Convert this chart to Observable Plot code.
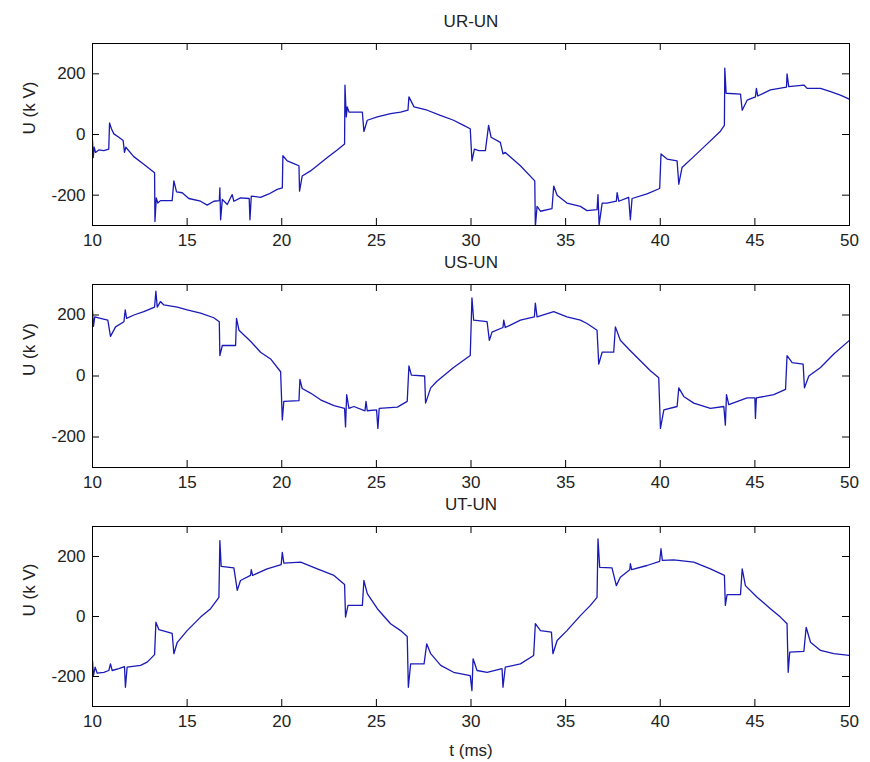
<!DOCTYPE html>
<html><head><meta charset="utf-8">
<script src="https://cdn.jsdelivr.net/npm/d3@7"></script>
<script src="https://cdn.jsdelivr.net/npm/@observablehq/plot@0.6"></script>
<style>
body{margin:0;background:#fff;}
#chart{position:relative;width:870px;height:762px;overflow:hidden;background:#fff;}
#chart svg{position:absolute;left:0;}
</style></head><body><div id="chart"></div>
<script>
const xTicks = [10,15,20,25,30,35,40,45,50];
const yTicks = [-200,0,200];
const titles = ["UR-UN","US-UN","UT-UN"];
const yLabel = "U (k V)";
const xLabel = "t (ms)";

// [t (ms), U (kV)]
const UR_UN = [
[10.00,-20],[10.04,-76],[10.09,-42],[10.16,-59],[10.33,-51],[10.60,-53],[10.86,-48],[10.90,38],[11.00,19],[11.13,2],
[11.39,-9],[11.62,-20],[11.69,-59],[11.76,-42],[12.18,-73],[12.71,-98],[13.28,-126],[13.30,-287],[13.37,-209],[13.45,-226],
[13.59,-218],[14.21,-218],[14.30,-153],[14.44,-189],[14.74,-192],[15.09,-211],[15.71,-220],[16.06,-233],[16.41,-220],[16.70,-218],
[16.73,-176],[16.77,-281],[16.86,-214],[17.12,-231],[17.38,-198],[17.47,-220],[17.82,-209],[18.28,-211],[18.32,-281],[18.39,-203],
[18.88,-207],[19.32,-196],[19.76,-181],[20.03,-176],[20.06,-70],[20.29,-87],[20.64,-96],[20.91,-103],[20.94,-187],[21.08,-137],
[21.52,-120],[22.41,-76],[22.93,-51],[23.32,-31],[23.34,163],[23.41,58],[23.46,91],[23.55,74],[24.26,74],[24.34,10],
[24.52,47],[25.05,58],[25.75,69],[26.28,74],[26.67,80],[26.72,124],[26.99,91],[27.69,80],[28.38,63],[29.08,47],
[29.61,30],[29.96,19],[30.05,-87],[30.18,-48],[30.41,-53],[30.76,-53],[30.93,30],[31.06,-9],[31.55,-26],[31.69,-64],
[31.81,-59],[32.61,-103],[33.37,-153],[33.40,-305],[33.49,-237],[33.67,-253],[34.28,-244],[34.37,-170],[34.55,-200],[35.07,-226],
[35.78,-237],[36.13,-251],[36.66,-248],[36.71,-198],[36.77,-298],[36.93,-226],[37.19,-226],[37.68,-220],[37.72,-192],[37.81,-220],
[38.33,-207],[38.42,-281],[38.51,-211],[39.30,-196],[39.97,-178],[40.04,-64],[40.36,-81],[40.89,-87],[40.98,-164],[41.15,-109],
[41.77,-73],[42.48,-31],[43.18,11],[43.39,30],[43.41,219],[43.48,136],[44.24,133],[44.33,80],[44.59,113],[45.03,124],
[45.08,152],[45.15,127],[45.82,147],[46.67,156],[46.70,200],[46.79,158],[47.59,163],[47.76,152],[48.47,152],[49.00,141],
[49.52,130],[50.00,116]
];
const US_UN = [
[10.00,217],[10.05,163],[10.12,194],[10.42,189],[10.81,183],[10.95,130],[11.22,161],[11.66,178],[11.73,217],[11.80,189],
[12.19,200],[12.71,211],[13.28,226],[13.35,278],[13.42,226],[13.59,244],[13.77,233],[14.48,226],[15.00,217],[15.71,206],
[16.41,191],[16.70,178],[16.73,67],[16.86,100],[17.56,100],[17.61,189],[17.74,150],[18.35,114],[18.88,78],[19.41,56],
[19.94,14],[20.03,-144],[20.11,-83],[20.91,-81],[20.96,-11],[21.08,-41],[21.52,-56],[22.05,-78],[22.76,-97],[23.32,-106],
[23.37,-167],[23.43,-61],[23.55,-106],[23.81,-100],[24.40,-114],[24.45,-83],[24.52,-114],[25.01,-111],[25.08,-172],[25.15,-106],
[26.11,-102],[26.63,-83],[26.72,33],[26.85,3],[27.55,0],[27.60,-89],[27.87,-39],[28.20,-17],[29.08,28],[29.96,67],
[30.05,256],[30.14,183],[30.85,178],[30.97,117],[31.11,144],[31.69,159],[31.73,183],[31.81,159],[32.61,183],[33.35,194],
[33.40,239],[33.49,194],[34.37,211],[35.07,194],[35.78,183],[36.13,172],[36.66,150],[36.75,39],[36.93,78],[37.54,78],
[37.63,161],[37.89,117],[38.42,83],[38.95,50],[39.48,17],[39.92,-6],[40.01,-172],[40.19,-111],[40.89,-100],[40.98,-39],
[41.24,-67],[41.77,-89],[42.65,-106],[43.36,-100],[43.44,-161],[43.50,-61],[43.62,-94],[44.59,-72],[45.00,-72],[45.03,-139],
[45.08,-72],[46.00,-61],[46.62,-44],[46.70,67],[46.97,44],[47.55,39],[47.62,-39],[47.85,0],[48.47,28],[49.17,72],
[50.00,117]
];
const UT_UN = [
[10.00,-147],[10.05,-197],[10.14,-169],[10.25,-189],[10.60,-186],[10.86,-180],[10.95,-158],[11.04,-180],[11.39,-174],[11.69,-167],
[11.74,-236],[11.83,-169],[12.54,-163],[12.89,-152],[13.28,-127],[13.35,-19],[13.51,-44],[14.21,-56],[14.30,-124],[14.48,-86],
[15.00,-47],[15.71,-2],[16.24,26],[16.68,64],[16.73,253],[16.80,167],[17.47,162],[17.65,87],[17.82,120],[18.35,137],
[18.39,156],[18.46,137],[19.23,159],[19.97,173],[20.03,214],[20.11,178],[21.00,181],[21.88,159],[22.76,137],[23.32,107],
[23.37,-2],[23.50,37],[24.26,37],[24.34,120],[24.52,76],[25.05,26],[25.75,-24],[26.28,-47],[26.63,-67],[26.69,-236],
[26.81,-158],[27.52,-158],[27.66,-91],[27.87,-124],[28.40,-163],[29.08,-186],[29.96,-197],[30.05,-247],[30.11,-141],[30.32,-180],
[30.85,-186],[31.64,-174],[31.69,-236],[31.81,-169],[32.61,-158],[33.31,-130],[33.40,-24],[33.67,-47],[34.25,-52],[34.33,-124],
[34.55,-80],[35.07,-47],[35.78,3],[36.31,37],[36.66,64],[36.71,259],[36.80,164],[37.45,162],[37.68,103],[37.89,131],
[38.39,156],[38.42,176],[38.49,156],[39.30,170],[39.97,184],[40.04,226],[40.11,187],[40.71,189],[41.77,181],[42.65,159],
[43.39,137],[43.44,37],[43.53,73],[44.24,73],[44.33,159],[44.50,103],[45.12,64],[45.82,26],[46.35,-2],[46.70,-24],
[46.76,-186],[46.84,-119],[47.59,-116],[47.71,-36],[47.94,-86],[48.47,-113],[49.17,-124],[50.00,-130]
];
const series = [UR_UN, US_UN, UT_UN];

const FONT = "'Liberation Sans',Arial,Helvetica,sans-serif";
const layout = [
  {top: 0,   areaH: 182, mb: 30},
  {top: 241, areaH: 183, mb: 30},
  {top: 483, areaH: 180, mb: 56}
];
const W = 757;

function panel(i) {
  const {areaH, mb} = layout[i];
  const marks = [
    Plot.line(series[i], {x: d => d[0], y: d => d[1], stroke: "#1a1ab8", strokeWidth: 1.3, clip: true}),
    Plot.frame({stroke: "black", strokeWidth: 1}),
    Plot.tickX(xTicks, {x: d => d, insetTop: areaH - 7, stroke: "black"}),
    Plot.tickX(xTicks, {x: d => d, insetBottom: areaH - 7, stroke: "black"}),
    Plot.tickY(yTicks, {y: d => d, insetRight: W - 7, stroke: "black"}),
    Plot.tickY(yTicks, {y: d => d, insetLeft: W - 7, stroke: "black"}),
    Plot.axisX({ticks: xTicks, tickSize: 0, tickPadding: 8, tickFormat: d => String(d), label: null, fill: "#222"}),
    Plot.axisY({ticks: yTicks, tickSize: 0, tickPadding: 7, tickFormat: d => String(d), label: null, fill: "#222"}),
    Plot.text([titles[i]], {frameAnchor: "top", dy: -22, text: d => d, lineAnchor: "middle", fill: "#222"}),
    Plot.text([yLabel], {frameAnchor: "left", dx: -63, rotate: -90, text: d => d, lineAnchor: "middle", fill: "#222"})
  ];
  if (i === 2) marks.push(Plot.text([xLabel], {frameAnchor: "bottom", dy: 44, text: d => d, lineAnchor: "middle", fill: "#222"}));
  const svg = Plot.plot({
    width: 870, height: 43 + areaH + mb,
    marginTop: 43, marginBottom: mb, marginLeft: 92, marginRight: 21,
    x: {domain: [10, 50]},
    y: {domain: [-300, 300]},
    style: {fontFamily: FONT, fontSize: "17px", background: "transparent", overflow: "visible"},
    marks
  });
  svg.style.top = layout[i].top + "px";
  return svg;
}
const root = document.getElementById("chart");
for (let i = 0; i < 3; i++) root.appendChild(panel(i));
</script>
</body></html>
